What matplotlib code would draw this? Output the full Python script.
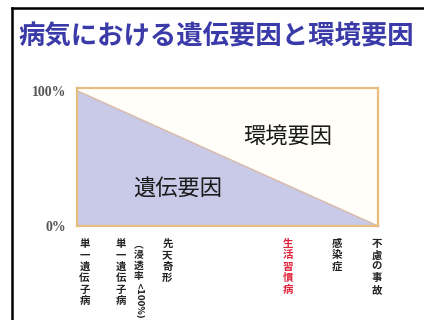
import matplotlib
matplotlib.use("Agg")
import matplotlib.pyplot as plt
from matplotlib.lines import Line2D

plt.rcParams['font.family'] = ['Noto Sans CJK JP', 'DejaVu Sans']

title = "病気における遺伝要因と環境要因"
genetic_x = [0, 1]
genetic_pct = [100, 0]
region_labels = ["遺伝要因", "環境要因"]
y_ticks = [0, 100]
y_tick_labels = ["0%", "100%"]
categories = ["単一遺伝子病", "単一遺伝子病", "先天奇形", "生活習慣病", "感染症", "不慮の事故"]
category_pos = [0.025, 0.145, 0.30, 0.70, 0.865, 0.995]
category_colors = ["#222222", "#222222", "#222222", "#e0203a", "#222222", "#222222"]
note_text = "︵浸透率"
note_rot = "<100%)"

W, H = 424, 320
fig = plt.figure(figsize=(W / 100, H / 100), dpi=100)
fig.patch.set_facecolor("white")

# slide border (black, top and left)
fig.add_artist(Line2D([12 / W, 12 / W], [0, 1 - 8 / H], color="black", lw=1.8, transform=fig.transFigure))
fig.add_artist(Line2D([12 / W, 1], [1 - 8 / H, 1 - 8 / H], color="black", lw=1.8, transform=fig.transFigure))

fig.text(216 / W, 1 - 37 / H, title, ha="center", va="center", fontsize=19,
         color="#3a3aa8", fontweight="bold")

x0, x1, yt, yb = 77, 378, 88, 226
ax = fig.add_axes([x0 / W, 1 - yb / H, (x1 - x0) / W, (yb - yt) / H])
ax.set_facecolor("#fffef8")
ax.fill_between(genetic_x, genetic_pct, 0, color="#c9c9e8", lw=0)
ax.plot(genetic_x, genetic_pct, color="#d8b8a8", lw=1)
ax.set_xlim(0, 1)
ax.set_ylim(0, 102)
for s in ax.spines.values():
    s.set_color("#e8bd80")
    s.set_linewidth(1.6)
ax.set_xticks([])
ax.set_yticks(y_ticks)
ax.set_yticklabels(y_tick_labels, fontfamily="Liberation Serif", fontsize=10,
                   fontweight="bold", color="#555555")
ax.tick_params(axis="y", length=0, pad=8)

ax.text(0.335, 28, region_labels[0], ha="center", va="center", fontsize=16, color="#1a1a1a")
ax.text(0.70, 66, region_labels[1], ha="center", va="center", fontsize=16, color="#1a1a1a")

for name, pos, col in zip(categories, category_pos, category_colors):
    fig.text((x0 + pos * (x1 - x0)) / W, 1 - 239 / H, "\n".join(name), ha="center", va="top",
             fontsize=7.5, linespacing=1.17, color=col, fontweight="bold")

nx = (x0 + 0.205 * (x1 - x0)) / W
fig.text(nx, 1 - 239 / H, "\n".join(note_text), ha="center", va="top", fontsize=7,
         linespacing=1.1, color="#222222", fontweight="bold")
fig.text(nx, 1 - 282 / H, note_rot, ha="center", va="top", fontsize=6, rotation=-90,
         color="#222222", fontweight="bold", fontfamily="DejaVu Sans")

fig.savefig("out.png", dpi=100, facecolor="white")
